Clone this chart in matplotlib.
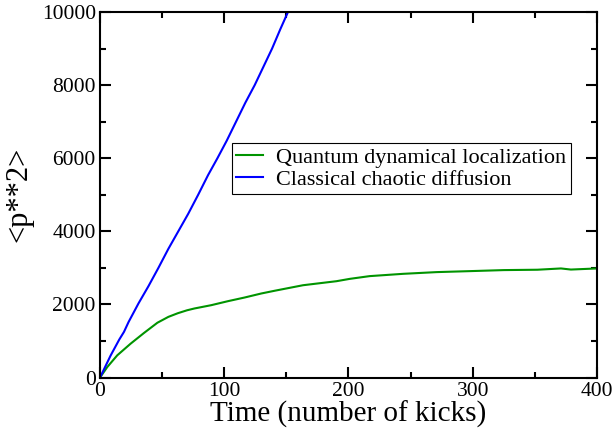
import matplotlib
matplotlib.use('Agg')
import matplotlib.pyplot as plt
from matplotlib.ticker import MultipleLocator

# classical chaotic diffusion (blue)
classical_kicks = [0, 8.5, 15.5, 19.3, 23, 31, 39, 47, 55, 63, 71, 79, 87, 94.5, 102,
                   109.5, 117, 124.5, 131.5, 138.5, 145, 151.3, 160]
classical_p2 = [0, 600, 1040, 1250, 1520, 2030, 2500, 3000, 3520, 4000, 4480, 5000, 5540, 6000, 6480,
                7000, 7520, 8000, 8500, 9000, 9520, 10000, 10550]

# quantum dynamical localization (green)
quantum_kicks = [0, 5.9, 13.9, 24.7, 35.4, 46.2, 55, 62.6, 70, 76, 89.5, 103, 116.4,
                 129.8, 140.6, 163.4, 190.3, 201, 217, 244, 271, 298, 325, 352, 371, 379, 400]
quantum_p2 = [0, 290, 609, 929, 1220, 1500, 1660, 1760, 1840, 1890, 1980,
              2090, 2190, 2300, 2375, 2526, 2636, 2700, 2775, 2838, 2885, 2912, 2940, 2950,
              2985, 2955, 2985]

plt.rcParams['font.family'] = ['Liberation Serif', 'DejaVu Serif']

fig = plt.figure(figsize=[6.15, 4.37], dpi=100)
fig.subplots_adjust(left=0.1626, right=0.9707, bottom=0.136, top=0.9725)
ax = fig.add_subplot(1, 1, 1)

ax.plot(quantum_kicks, quantum_p2, color='#009400', lw=1.5, label='Quantum dynamical localization')
ax.plot(classical_kicks, classical_p2, color='#0000ff', lw=1.5, label='Classical chaotic diffusion')

ax.set_xlim(0, 400)
ax.set_ylim(0, 10000)
ax.xaxis.set_major_locator(MultipleLocator(100))
ax.xaxis.set_minor_locator(MultipleLocator(50))
ax.yaxis.set_major_locator(MultipleLocator(2000))
ax.yaxis.set_minor_locator(MultipleLocator(1000))
ax.tick_params(which='both', direction='in', top=True, right=True, width=1.5, labelsize=15.5, pad=3)
ax.tick_params(which='major', length=8)
ax.tick_params(which='minor', length=4)
for s in ax.spines.values():
    s.set_linewidth(1.5)

ax.set_xlabel('Time (number of kicks)', fontsize=21, labelpad=0)
ax.set_ylabel('<p**2>', fontsize=22, labelpad=6)

leg = ax.legend(loc='upper left', bbox_to_anchor=(0.2656, 0.6416), borderaxespad=0.,
                fontsize=16, handlelength=1.2, handletextpad=0.6, fancybox=False,
                framealpha=1, edgecolor='black', borderpad=0.2, labelspacing=0.05)
leg.get_frame().set_linewidth(0.8)

plt.savefig('out.png', dpi=100)
